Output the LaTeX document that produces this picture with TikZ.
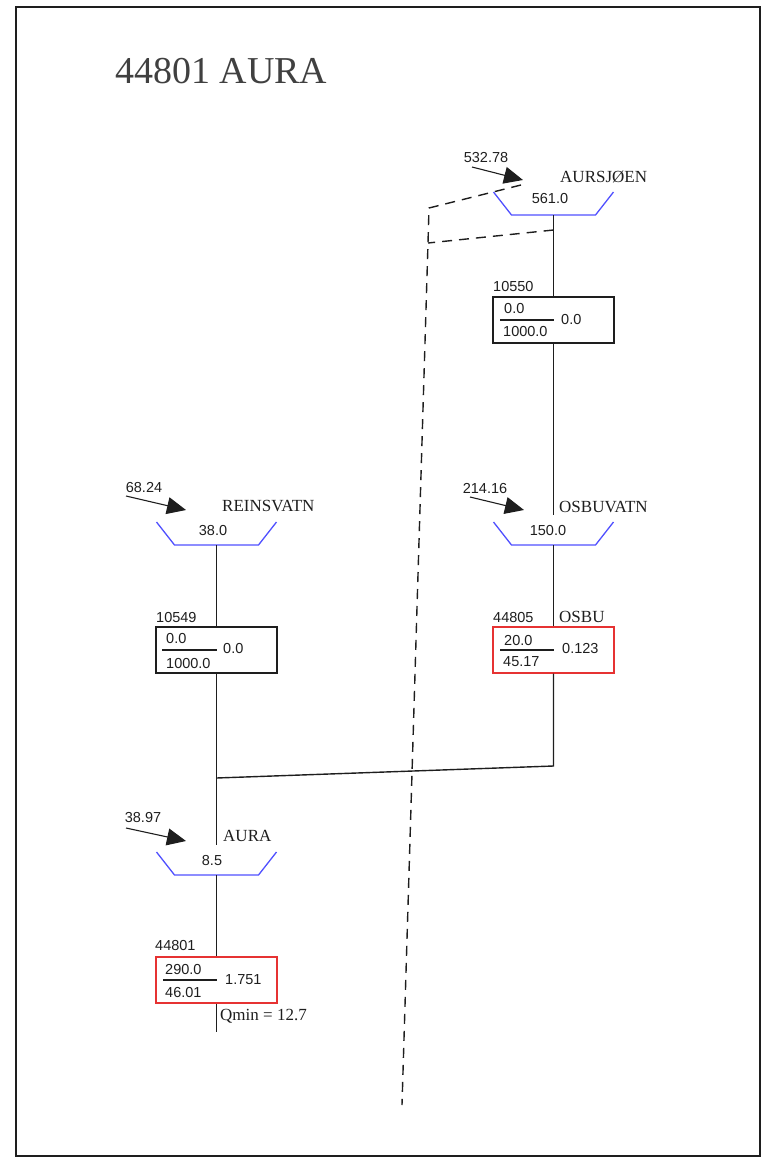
\documentclass[tikz,border=0pt]{standalone}
\usepackage{fontspec}
\setmainfont{Liberation Serif}
\newfontfamily\numfont{Liberation Sans}
\usetikzlibrary{arrows.meta}
\definecolor{resblue}{RGB}{80,80,255}
\definecolor{plantred}{RGB}{230,50,50}
\definecolor{ink}{RGB}{30,30,30}
\begin{document}
\begin{tikzpicture}[x=1pt,y=-1pt,
 lbl/.style={inner sep=0pt, text=ink, font=\fontsize{17}{20}\selectfont},
 num/.style={inner sep=0pt, text=ink, font=\numfont\fontsize{14.5}{17}\selectfont},
 res/.style={draw=resblue, line width=1.3pt},
 plant/.style={draw=ink, line width=1.3pt, minimum width=121pt, minimum height=46pt, inner sep=0pt},
 redplant/.style={plant, draw=plantred, line width=1.4pt},
 flow/.style={draw=ink, line width=1.4pt},
 inflow/.style={draw=ink, -{Triangle[length=19pt,width=17pt]}, line width=1.1pt},
 tunnel/.style={draw=ink, dash pattern=on 10pt off 7pt, line width=1.4pt},
 reservoir/.pic={\draw[res] (-60,0) -- (-42,23) -- (42,23) -- (60,0); \coordinate (-bot) at (0,23);}]
\useasboundingbox (0,0) rectangle (768,1160);
\draw[line width=1.8pt, ink] (16,7) rectangle (760,1156);

\node[anchor=base west, inner sep=0pt, text=ink!85, font=\fontsize{38}{44}\selectfont] (title) at (115,83) {44801 AURA};

% tunnel (dashed)
\coordinate (d0) at (521,185);
\coordinate (d1) at (429,208);
\coordinate (d2) at (428,243);
\coordinate (d3) at (402,1105);
\coordinate (d4) at (553.5,230);
\draw[tunnel] (d0) -- (d1) -- (d2) -- (d3);
\draw[tunnel] (d4) -- (d2);

% AURSJOEN
\pic (rA) at (553.5,192) {reservoir};
\node[num] (vA) at (550,199) {561.0};
\node[lbl, anchor=west] (nA) at (560,177) {AURSJØEN};
\node[num] (iA) at (486,158) {532.78};
\coordinate (aA0) at (472,167);
\coordinate (aA1) at (523,180);
\draw[inflow] (aA0) -- (aA1);

% 10550
\node[plant] (b10550) at (553.5,320) {};
\node[num, anchor=west] (l10550) at (493,287) {10550};
\node[num, anchor=west] (t10550) at (504,309) {0.0};
\node[num, anchor=west] (u10550) at (503,332) {1000.0};
\node[num, anchor=west] (r10550) at (561,320) {0.0};
\draw[flow] ([xshift=8pt]b10550.west) -- (b10550.center);
\draw[flow] (rA-bot) -- (b10550.north);

% OSBUVATN
\pic (rO) at (553.5,522) {reservoir};
\coordinate (sO) at (553.5,515);
\draw[flow] (b10550.south) -- (sO);
\node[num] (vO) at (548,530) {150.0};
\node[lbl, anchor=west] (nO) at (559,507) {OSBUVATN};
\node[num] (iO) at (485,488) {214.16};
\coordinate (aO0) at (470,497);
\coordinate (aO1) at (524,510);
\draw[inflow] (aO0) -- (aO1);

% OSBU plant
\node[redplant] (bOsbu) at (553.5,650) {};
\node[num, anchor=west] (l44805) at (493,617) {44805};
\node[lbl, anchor=west] (nOsbu) at (559,617) {OSBU};
\node[num, anchor=west] (tOsbu) at (504,640) {20.0};
\node[num, anchor=west] (uOsbu) at (503,662) {45.17};
\node[num, anchor=west] (rOsbu) at (562,648) {0.123};
\draw[flow] ([xshift=8pt]bOsbu.west) -- (bOsbu.center);
\draw[flow] (rO-bot) -- (bOsbu.north);
\coordinate (j1) at (553.5,766);
\coordinate (j2) at (216.5,778);
\draw[flow] (bOsbu.south) -- (j1) -- (j2);

% REINSVATN
\pic (rR) at (216.5,522) {reservoir};
\node[num] (vR) at (213,530) {38.0};
\node[lbl, anchor=west] (nR) at (222,506) {REINSVATN};
\node[num] (iR) at (144,487) {68.24};
\coordinate (aR0) at (126,496);
\coordinate (aR1) at (186,510);
\draw[inflow] (aR0) -- (aR1);

% 10549
\node[plant] (b10549) at (216.5,650) {};
\node[num, anchor=west] (l10549) at (156,617) {10549};
\node[num, anchor=west] (t10549) at (166,638) {0.0};
\node[num, anchor=west] (u10549) at (166,663) {1000.0};
\node[num, anchor=west] (r10549) at (223,648) {0.0};
\draw[flow] ([xshift=7pt]b10549.west) -- (b10549.center);
\draw[flow] (rR-bot) -- (b10549.north);
\coordinate (sAu) at (216.5,845);
\draw[flow] (b10549.south) -- (sAu);

% AURA
\pic (rAu) at (216.5,852) {reservoir};
\node[num] (vAu) at (212,860) {8.5};
\node[lbl, anchor=west] (nAu) at (223,836) {AURA};
\node[num] (iAu) at (143,817) {38.97};
\coordinate (aAu0) at (126,828);
\coordinate (aAu1) at (186,841);
\draw[inflow] (aAu0) -- (aAu1);

% 44801 plant
\node[redplant] (b44801) at (216.5,980) {};
\node[num, anchor=west] (l44801) at (155,945) {44801};
\node[num, anchor=west] (t44801) at (165,969) {290.0};
\node[num, anchor=west] (u44801) at (165,992) {46.01};
\node[num, anchor=west] (r44801) at (225,980) {1.751};
\node[lbl, anchor=west] (q44801) at (220,1016) {Qmin = 12.7};
\draw[flow] ([xshift=8pt]b44801.west) -- (b44801.center);
\draw[flow] (rAu-bot) -- (b44801.north);
\coordinate (qend) at (216.5,1032);
\draw[flow] (b44801.south) -- (qend);
\end{tikzpicture}
\end{document}
